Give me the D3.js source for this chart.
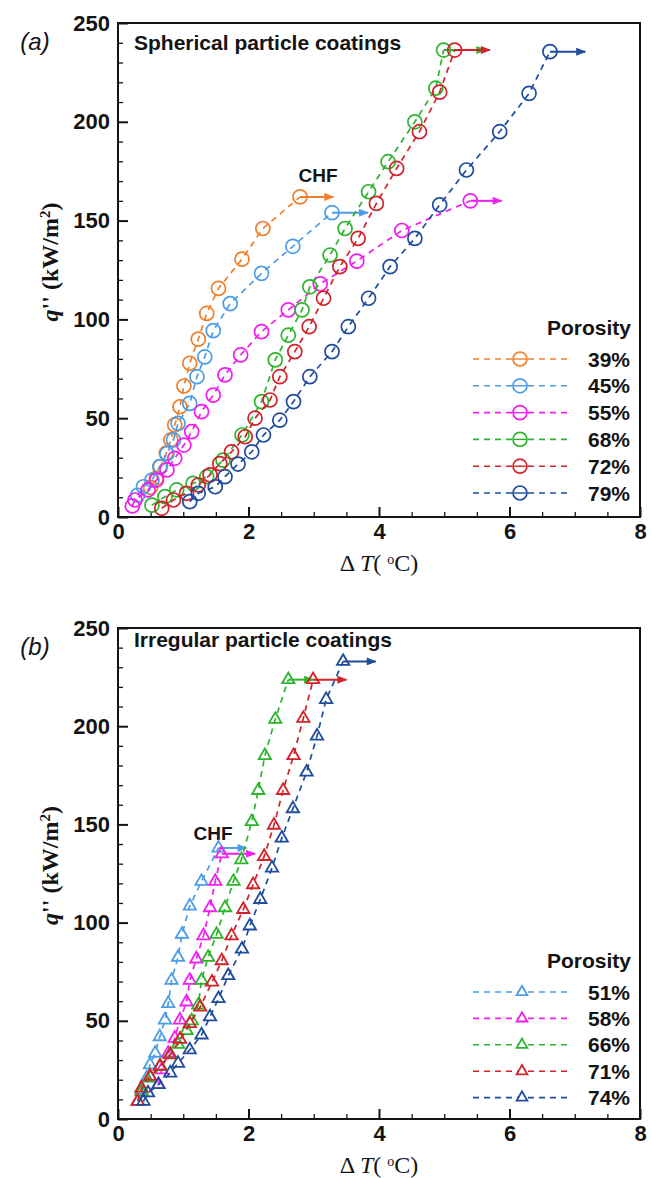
<!DOCTYPE html>
<html>
<head>
<meta charset="utf-8">
<script src="https://cdn.jsdelivr.net/npm/d3@7"></script>
<style>
  body { margin: 0; background: #fff; }
  svg { display: block; }
</style>
</head>
<body>
<svg id="fig" width="652" height="1178"></svg>
<script>
// ---------- (a) Spherical particle coatings: ΔT (°C) vs q'' (kW/m²) ----------
const dTa39 = [0.50, 0.59, 0.65, 0.74, 0.81, 0.87, 0.95, 1.01, 1.10, 1.23, 1.36, 1.54, 1.90, 2.22, 2.79];
const qa39  = [15, 19.7, 25.5, 32.4, 39, 46.6, 55.8, 66.3, 77.8, 90, 103, 115.7, 130.5, 146, 162];

const dTa45 = [0.30, 0.39, 0.52, 0.64, 0.75, 0.85, 0.92, 1.10, 1.21, 1.33, 1.46, 1.72, 2.20, 2.68, 3.28];
const qa45  = [11, 15.3, 18.7, 25.5, 32, 39, 47.4, 57.5, 71, 81, 94.3, 108, 123.3, 137, 154];

const dTa55 = [0.22, 0.26, 0.46, 0.59, 0.75, 0.87, 1.01, 1.13, 1.28, 1.46, 1.64, 1.88, 2.20, 2.61, 3.10, 3.66, 4.35, 5.40];
const qa55  = [5.6, 8.6, 13.7, 18.7, 23.8, 29.7, 36.4, 43.2, 53.3, 61.7, 71.9, 82, 93.8, 104.8, 118, 129.5, 145, 160];

const dTa68 = [0.52, 0.72, 0.90, 1.15, 1.36, 1.61, 1.90, 2.20, 2.41, 2.61, 2.82, 2.94, 3.25, 3.48, 3.84, 4.14, 4.55, 4.87, 4.99];
const qa68  = [6, 10.3, 13.7, 17, 20.4, 28.8, 41.5, 58.4, 79.5, 92, 104.8, 116.5, 132.6, 146, 164.6, 179.8, 200, 217, 236.3];

const dTa72 = [0.67, 0.85, 1.05, 1.23, 1.41, 1.56, 1.74, 1.95, 2.10, 2.33, 2.48, 2.71, 2.93, 3.15, 3.40, 3.68, 3.96, 4.27, 4.62, 4.93, 5.16];
const qa72  = [4.4, 8.6, 12, 16.2, 21.3, 27, 33, 40.6, 50, 59.2, 71, 83.7, 96.3, 110.7, 126.7, 141, 158.7, 176.4, 195, 215, 236.3];

const dTa79 = [1.10, 1.23, 1.49, 1.64, 1.84, 2.05, 2.23, 2.48, 2.69, 2.94, 3.28, 3.53, 3.84, 4.17, 4.55, 4.93, 5.34, 5.85, 6.30, 6.62];
const qa79  = [7.8, 12, 15.3, 20.4, 26.8, 33, 41.5, 49, 58.4, 71, 83.7, 96.3, 110.7, 126.7, 141, 158, 175.6, 195, 214.4, 235.5];

const porosityA = ["39%", "45%", "55%", "68%", "72%", "79%"];
// ΔT where each CHF arrow ends
const chfEndA = [3.30, 3.83, 5.88, 5.63, 5.70, 7.16];

// ---------- (b) Irregular particle coatings ----------
const dTb51 = [0.31, 0.36, 0.44, 0.49, 0.57, 0.64, 0.72, 0.77, 0.82, 0.92, 0.98, 1.10, 1.28, 1.54];
const qb51  = [9, 14.9, 20.9, 27.6, 33.5, 41.9, 50.4, 58.8, 70.6, 82.3, 94, 108.4, 121, 138];

const dTb58 = [0.62, 0.67, 0.77, 0.87, 0.95, 1.05, 1.10, 1.20, 1.31, 1.41, 1.49, 1.59];
const qb58  = [17.5, 25, 33.5, 41.1, 50.4, 59.6, 70.6, 81.5, 93.3, 107.6, 121, 135];

const dTb66 = [0.36, 0.50, 0.65, 0.80, 0.92, 1.05, 1.13, 1.23, 1.28, 1.38, 1.51, 1.64, 1.77, 1.89, 2.05, 2.15, 2.25, 2.41, 2.61];
const qb66  = [14, 21, 27, 33, 38, 45, 50, 58, 70.6, 82.3, 94, 107.6, 121, 132, 151.4, 167.3, 185, 203.5, 223.7];

const dTb71 = [0.30, 0.36, 0.49, 0.64, 0.80, 0.95, 1.10, 1.26, 1.44, 1.59, 1.74, 1.92, 2.07, 2.24, 2.39, 2.53, 2.69, 2.84, 2.99];
const qb71  = [9, 15.8, 21.7, 26.8, 32.7, 40.6, 48.6, 57, 69.7, 80.6, 93.3, 106.7, 119.3, 133.7, 149.6, 167.3, 185, 204, 223.7];

const dTb74 = [0.39, 0.46, 0.62, 0.80, 0.92, 1.10, 1.28, 1.41, 1.54, 1.69, 1.90, 2.02, 2.18, 2.36, 2.51, 2.68, 2.89, 3.05, 3.19, 3.45];
const qb74  = [9, 13.3, 17.5, 23.4, 28.4, 35.2, 42.8, 52, 61.3, 73, 86.5, 98.3, 111.8, 127.8, 143, 158, 176.6, 195, 213.6, 233];

const porosityB = ["51%", "58%", "66%", "71%", "74%"];
const chfEndB = [1.97, 2.10, 2.99, 3.50, 3.95];

// ---------- axes ----------
const xMajor = [0, 2, 4, 6, 8];
const xMinor = d3.range(0, 8.01, 0.5).filter(v => v % 2 !== 0);
const yMajor = [0, 50, 100, 150, 200, 250];
const yMinor = d3.range(0, 250.1, 10).filter(v => v % 50 !== 0);

const colA = ["#ef7f2b", "#4c9de8", "#f01ef0", "#2db52d", "#d2222b", "#1f4c9c"];
const colB = ["#4c9de8", "#f01ef0", "#2db52d", "#d2222b", "#1f4c9c"];

const SANS = "'Liberation Sans', Arial, Helvetica, sans-serif";
const SERIF = "'Liberation Serif', 'Times New Roman', serif";
const INK = "#141414";

const svg = d3.select("#fig");
svg.append("rect").attr("width", 652).attr("height", 1178).attr("fill", "#fff");

// arrowhead markers, one per colour
const defs = svg.append("defs");
Array.from(new Set(colA.concat(colB))).forEach((c, i) => {
  defs.append("marker")
    .attr("id", "ah" + c.slice(1))
    .attr("viewBox", "0 0 10 8")
    .attr("refX", 9).attr("refY", 4)
    .attr("markerUnits", "userSpaceOnUse")
    .attr("markerWidth", 11).attr("markerHeight", 8)
    .attr("orient", "auto")
    .append("path").attr("d", "M0,0 L10,4 L0,8 Z").attr("fill", c);
});

function drawPanel(p) {
  const g = svg.append("g");
  const x = d3.scaleLinear().domain([0, 8]).range([p.left, p.right]);
  const y = d3.scaleLinear().domain([0, 250]).range([p.bottom, p.top]);

  // frame
  g.append("rect")
    .attr("x", p.left).attr("y", p.top)
    .attr("width", p.right - p.left).attr("height", p.bottom - p.top)
    .attr("fill", "none").attr("stroke", INK).attr("stroke-width", 2);

  // minor ticks
  g.append("g").attr("transform", `translate(0,${p.bottom})`)
    .call(d3.axisBottom(x).tickValues(xMinor).tickSize(-5).tickFormat(""))
    .call(a => a.select(".domain").remove())
    .call(a => a.selectAll("line").attr("stroke", INK).attr("stroke-width", 1.3));
  g.append("g").attr("transform", `translate(${p.left},0)`)
    .call(d3.axisLeft(y).tickValues(yMinor).tickSize(-5).tickFormat(""))
    .call(a => a.select(".domain").remove())
    .call(a => a.selectAll("line").attr("stroke", INK).attr("stroke-width", 1.3));

  // major ticks + labels
  const styleAxis = a => {
    a.select(".domain").remove();
    a.selectAll("line").attr("stroke", INK).attr("stroke-width", 2);
    a.selectAll("text").attr("fill", INK)
      .style("font-family", SANS).style("font-weight", "bold").style("font-size", "22px");
  };
  g.append("g").attr("transform", `translate(0,${p.bottom})`)
    .call(d3.axisBottom(x).tickValues(xMajor).tickSize(-10).tickPadding(6).tickFormat(d3.format("d")))
    .call(styleAxis);
  g.append("g").attr("transform", `translate(${p.left},0)`)
    .call(d3.axisLeft(y).tickValues(yMajor).tickSize(-10).tickPadding(8).tickFormat(d3.format("d")))
    .call(styleAxis);

  // y-axis title
  const yt = g.append("text")
    .attr("transform", `translate(${p.left - 60},${(p.top + p.bottom) / 2 - 8}) rotate(-90)`)
    .attr("text-anchor", "middle")
    .style("font-family", SERIF).style("font-weight", "bold").style("font-size", "24px")
    .attr("fill", INK);
  yt.append("tspan").style("font-style", "italic").text("q");
  yt.append("tspan").text("''  (kW/m");
  yt.append("tspan").attr("baseline-shift", "super").style("font-size", "15px").text("2");
  yt.append("tspan").text(")");

  // x-axis title
  const xt = g.append("text")
    .attr("x", (p.left + p.right) / 2).attr("y", p.bottom + 54)
    .attr("text-anchor", "middle")
    .style("font-family", SERIF).style("font-size", "24px").attr("fill", INK);
  xt.append("tspan").text("Δ ");
  xt.append("tspan").style("font-style", "italic").text("T");
  xt.append("tspan").text("( ");
  xt.append("tspan").attr("baseline-shift", "super").style("font-size", "14px").text("o");
  xt.append("tspan").text("C)");

  // panel tag and title
  g.append("text").attr("x", 35).attr("y", p.top + 27).attr("text-anchor", "middle")
    .style("font-family", SANS).style("font-style", "italic").style("font-size", "24px")
    .attr("fill", INK).text(p.tag);
  g.append("text").attr("x", p.left + 16).attr("y", p.top + p.titleDy)
    .style("font-family", SANS).style("font-weight", "bold").style("font-size", "21px")
    .attr("fill", INK).text(p.title);

  // CHF label
  g.append("text").attr("x", p.chfAt[0]).attr("y", p.chfAt[1]).attr("text-anchor", "middle")
    .style("font-family", SANS).style("font-weight", "bold").style("font-size", "19px")
    .attr("fill", INK).text("CHF");

  const marker = (sel, c) => {
    if (p.shape === "circle") {
      sel.append("circle").attr("r", 7).attr("fill", "none")
        .attr("stroke", c).attr("stroke-width", 1.7);
    } else {
      sel.append("path").attr("d", d3.symbol(d3.symbolTriangle, 66)())
        .attr("fill", "none").attr("stroke", c).attr("stroke-width", 1.8);
    }
  };

  const line = d3.line().x(d => x(d[0])).y(d => y(d[1]));

  p.series.forEach((s, i) => {
    const c = p.colors[i];
    const pts = s.dT.map((v, k) => [v, s.q[k]]);
    const sg = g.append("g");
    sg.append("path").attr("d", line(pts)).attr("fill", "none")
      .attr("stroke", c).attr("stroke-width", 1.7).attr("stroke-dasharray", "6,5");
    // CHF arrow from the last point
    const last = pts[pts.length - 1];
    sg.append("line")
      .attr("x1", x(last[0])).attr("y1", y(last[1]))
      .attr("x2", x(p.chfEnd[i])).attr("y2", y(last[1]))
      .attr("stroke", c).attr("stroke-width", 2)
      .attr("marker-end", `url(#ah${c.slice(1)})`);
    sg.selectAll("g.m").data(pts).join("g").attr("class", "m")
      .attr("transform", d => `translate(${x(d[0])},${y(d[1])})`)
      .each(function () { marker(d3.select(this), c); });
  });

  // legend
  const lg = g.append("g");
  lg.append("text").attr("x", p.right - 9).attr("y", p.legendTop).attr("dy", "0.36em")
    .attr("text-anchor", "end")
    .style("font-family", SANS).style("font-weight", "bold").style("font-size", "21px")
    .attr("fill", INK).text("Porosity");
  p.labels.forEach((lab, i) => {
    const ry = p.legendTop + 32 + i * p.legendStep;
    const c = p.colors[i];
    lg.append("line").attr("x1", 473).attr("x2", 568).attr("y1", ry).attr("y2", ry)
      .attr("stroke", c).attr("stroke-width", 1.6).attr("stroke-dasharray", "6,5");
    const mg = lg.append("g").attr("transform", `translate(${p.legendMarkX},${ry})`);
    if (p.shape === "circle") {
      mg.append("circle").attr("r", 7).attr("fill", "#fff").attr("stroke", c).attr("stroke-width", 1.7);
      mg.append("line").attr("x1", -7).attr("x2", 7).attr("stroke", c).attr("stroke-width", 1.4);
    } else {
      mg.append("path").attr("d", d3.symbol(d3.symbolTriangle, 50)())
        .attr("fill", "#fff").attr("stroke", c).attr("stroke-width", 1.8);
    }
    lg.append("text").attr("x", p.right - 10).attr("y", ry).attr("dy", "0.36em")
      .attr("text-anchor", "end")
      .style("font-family", SANS).style("font-weight", "bold").style("font-size", "21px")
      .attr("fill", INK).text(lab);
  });
}

drawPanel({
  left: 118, right: 640, top: 23, bottom: 517,
  tag: "(a)", title: "Spherical particle coatings", titleDy: 27,
  chfAt: [318, 182], shape: "circle",
  series: [
    { dT: dTa39, q: qa39 }, { dT: dTa45, q: qa45 }, { dT: dTa55, q: qa55 },
    { dT: dTa68, q: qa68 }, { dT: dTa72, q: qa72 }, { dT: dTa79, q: qa79 }
  ],
  colors: colA, labels: porosityA, chfEnd: chfEndA,
  legendTop: 327, legendStep: 26.8, legendMarkX: 520
});

drawPanel({
  left: 118, right: 640, top: 628, bottom: 1119,
  tag: "(b)", title: "Irregular particle coatings", titleDy: 19,
  chfAt: [213, 840], shape: "triangle",
  series: [
    { dT: dTb51, q: qb51 }, { dT: dTb58, q: qb58 }, { dT: dTb66, q: qb66 },
    { dT: dTb71, q: qb71 }, { dT: dTb74, q: qb74 }
  ],
  colors: colB, labels: porosityB, chfEnd: chfEndB,
  legendTop: 960, legendStep: 26.4, legendMarkX: 522
});
</script>
</body>
</html>
